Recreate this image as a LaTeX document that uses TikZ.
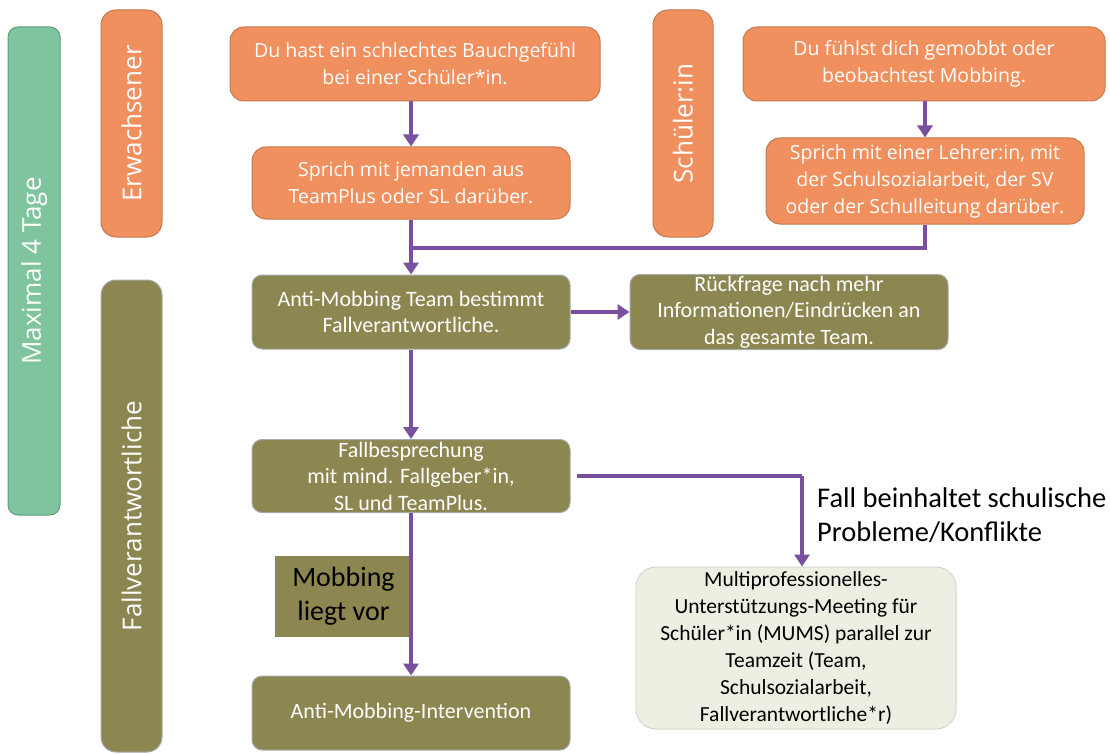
\documentclass[tikz,border=0pt]{standalone}
\usepackage{fontspec}
\setmainfont{Carlito}
\newfontfamily\osans{Open Sans}
\usetikzlibrary{arrows.meta}
\definecolor{orfill}{HTML}{F0905E}
\definecolor{ordraw}{HTML}{C47A50}
\definecolor{olfill}{HTML}{8C8651}
\definecolor{oldraw}{HTML}{A3ABAB}
\definecolor{grfill}{HTML}{7FC49E}
\definecolor{grdraw}{HTML}{5E9C7A}
\definecolor{purp}{HTML}{7B4FA0}
\definecolor{mufill}{HTML}{EFEEE3}
\definecolor{mudraw}{HTML}{D6D6CC}
\tikzset{
  obox/.style={draw=ordraw, fill=orfill, line width=1pt, rounded corners=14pt, text=white, align=center, inner sep=0pt, font=\osans\fontsize{19.5}{27}\selectfont},
  olbox/.style={draw=oldraw, fill=olfill, line width=1pt, rounded corners=10pt, text=white, align=center, inner sep=0pt, font=\fontsize{22}{26.5}\selectfont},
  bar/.style={line width=1pt, rounded corners=15pt, text=white, inner sep=0pt, rotate=90, font=\osans\fontsize{26}{30}\selectfont},
  arr/.style={draw=purp, line width=4pt, -{Triangle[width=15pt,length=12pt]}},
  ln/.style={draw=purp, line width=4pt},
}
\begin{document}
\begin{tikzpicture}[x=1pt,y=-1pt]
\useasboundingbox (0,0) rectangle (1110,754);
% lane bars
\node[bar, draw=grdraw, fill=grfill, rounded corners=10pt, minimum width=488pt, minimum height=52pt] (green) at (34,271) {Maximal 4 Tage};
\node[bar, draw=ordraw, fill=orfill, minimum width=227pt, minimum height=61pt] (erw) at (131.5,123.5) {Erwachsener};
\node[bar, draw=oldraw, fill=olfill, minimum width=472pt, minimum height=61pt] (fv) at (131.5,516) {Fallverantwortliche};
\node[bar, draw=ordraw, fill=orfill, minimum width=227pt, minimum height=60pt] (sch) at (683,123.5) {Schüler:in};
% orange boxes
\node[obox, minimum width=370pt, minimum height=74pt] (A) at (415,64) {Du hast ein schlechtes Bauchgefühl\\bei einer Schüler*in.};
\node[obox, minimum width=318pt, minimum height=72pt] (B) at (411,183) {Sprich mit jemanden aus\\TeamPlus oder SL darüber.};
\node[obox, minimum width=362pt, minimum height=74pt] (C) at (924,64) {Du fühlst dich gemobbt oder\\beobachtest Mobbing.};
\node[obox, minimum width=318pt, minimum height=86pt] (D) at (925,181) {Sprich mit einer Lehrer:in, mit\\der Schulsozialarbeit, der SV\\oder der Schulleitung darüber.};
% olive boxes
\node[olbox, minimum width=318pt, minimum height=74pt] (E) at (411,312) {Anti-Mobbing Team bestimmt\\Fallverantwortliche.};
\node[olbox, minimum width=318pt, minimum height=75pt] (R) at (789,312) {Rückfrage nach mehr\\Informationen/Eindrücken an\\das gesamte Team.};
\node[olbox, minimum width=318pt, minimum height=73pt] (F) at (411,476) {Fallbesprechung\\mit mind. Fallgeber*in,\\SL und TeamPlus.};
\node[olbox, minimum width=318pt, minimum height=74pt] (G) at (411,713) {Anti-Mobbing-Intervention};
\node[draw=mudraw, fill=mufill, line width=1pt, rounded corners=20pt, align=center, inner sep=0pt, minimum width=320pt, minimum height=162pt, font=\fontsize{21.5}{27}\selectfont] (M) at (796,648) {Multiprofessionelles-\\Unterstützungs-Meeting für\\Schüler*in (MUMS) parallel zur\\Teamzeit (Team,\\Schulsozialarbeit,\\Fallverantwortliche*r)};
% labels
\node[fill=olfill, align=center, inner sep=0pt, minimum width=137pt, minimum height=81pt, font=\fontsize{28}{34}\selectfont] (mob) at (343.5,596.5) {Mobbing\\liegt vor};
\node[anchor=west, align=left, inner sep=0pt, font=\fontsize{28.5}{34}\selectfont] (fall) at (817,515) {Fall beinhaltet schulische\\Probleme/Konflikte};
% connectors
\coordinate (j) at (411,248);
\coordinate (k) at (802,476);
\draw[arr] (B.north |- A.south) -- (B.north);
\draw[arr] (D.north |- C.south) -- (D.north);
\draw[ln] (D.south) |- (j);
\draw[arr] (B.south) -- (E.north);
\draw[arr] (E.east) -- (R.west);
\draw[arr] (E.south) -- (F.north);
\draw[ln] ([xshift=6pt]F.east) -- (k);
\draw[arr] (k) -- (k |- M.north);
\draw[arr] (F.south) -- (G.north);
\end{tikzpicture}
\end{document}
